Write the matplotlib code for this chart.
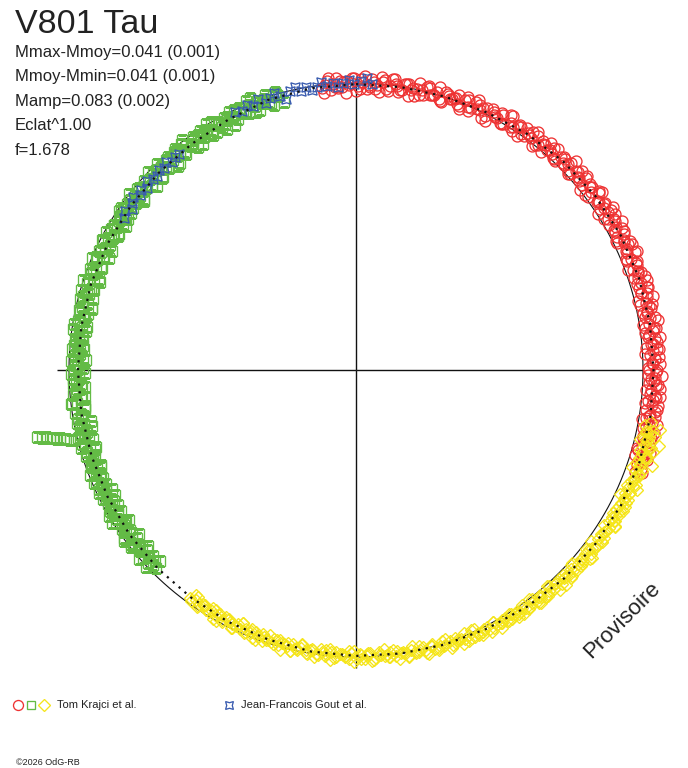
import numpy as np
import matplotlib
matplotlib.use("Agg")
import matplotlib.pyplot as plt

# ---------------- data (phase, delta-magnitude from mean) ----------------
fit_phase = [0.000, 0.025, 0.050, 0.075, 0.100, 0.125, 0.150, 0.175, 0.200, 0.225,
             0.250, 0.275, 0.300, 0.325, 0.350, 0.375, 0.400, 0.425, 0.450, 0.475,
             0.500, 0.525, 0.550, 0.575, 0.600, 0.625, 0.650, 0.675, 0.700, 0.725,
             0.750, 0.775, 0.800, 0.825, 0.850, 0.875, 0.900, 0.925, 0.950, 0.975, 1.000]
fit_dm = [0.004, 0.002, -0.002, -0.007, -0.017, -0.026, -0.033, -0.037, -0.039, -0.039,
          -0.039, -0.041, -0.041, -0.039, -0.033, -0.028, -0.019, -0.011, -0.006, 0.000,
          0.004, 0.007, 0.013, 0.017, 0.022, 0.024, 0.026, 0.030, 0.033, 0.033,
          0.033, 0.033, 0.031, 0.031, 0.031, 0.030, 0.028, 0.022, 0.011, 0.006, 0.004]

# Tom Krajci et al. -- red part (three runs)
red_phase_a = [0.981, 0.984, 0.987, 0.990, 0.993, 0.996, 0.998, 0.001, 0.004, 0.006,
               0.009, 0.012, 0.015, 0.017, 0.020, 0.023, 0.026, 0.028, 0.031, 0.034,
               0.036, 0.039, 0.042, 0.045, 0.047, 0.050, 0.053, 0.056, 0.058, 0.061,
               0.064, 0.067, 0.069, 0.072, 0.075, 0.078, 0.080, 0.083, 0.086, 0.089,
               0.091, 0.094, 0.097, 0.100, 0.103, 0.105, 0.108, 0.111, 0.114, 0.116,
               0.119, 0.122, 0.125, 0.128, 0.130, 0.133, 0.136, 0.139, 0.141, 0.144,
               0.147, 0.150, 0.153, 0.156, 0.158, 0.161, 0.164, 0.167, 0.170, 0.172,
               0.175, 0.178, 0.181, 0.184, 0.186, 0.189, 0.192, 0.195, 0.197, 0.200,
               0.203, 0.206, 0.208, 0.211, 0.214, 0.217, 0.219, 0.222, 0.225, 0.228,
               0.231, 0.233, 0.236, 0.239, 0.242, 0.244, 0.247, 0.250, 0.253, 0.256,
               0.258, 0.261, 0.264, 0.267, 0.269, 0.272, 0.275, 0.278, 0.281, 0.283,
               0.286, 0.289, 0.292, 0.294, 0.297, 0.300, 0.303, 0.306]
red_dm_a = [0.010, -0.012, 0.002, 0.018, -0.006, 0.008, -0.019, 0.012, -0.004, 0.020,
            -0.015, 0.006, -0.009, 0.015, -0.022, 0.001, 0.011, -0.013, 0.005, -0.002,
            0.017, -0.018, 0.007, -0.008, 0.013, -0.020, 0.000, -0.011, 0.009, -0.016,
            0.004, -0.024, -0.003, -0.014, 0.008, -0.020, -0.006, -0.027, 0.002, -0.017,
            -0.009, -0.030, -0.004, -0.022, -0.012, -0.035, -0.008, -0.025, -0.016, -0.038,
            -0.010, -0.030, -0.020, -0.043, -0.014, -0.034, -0.026, -0.047, -0.018, -0.037,
            -0.029, -0.050, -0.024, -0.041, -0.033, -0.052, -0.027, -0.044, -0.036, -0.055,
            -0.022, -0.040, -0.048, -0.031, -0.058, -0.037, -0.045, -0.026, -0.053, -0.034,
            -0.042, -0.060, -0.029, -0.047, -0.038, -0.055, -0.019, -0.044, -0.035, -0.057,
            -0.031, -0.049, -0.040, -0.062, -0.027, -0.046, -0.036, -0.053, -0.017, -0.043,
            -0.058, -0.034, -0.048, -0.025, -0.041, -0.056, -0.037, -0.050, -0.031, -0.045,
            -0.060, -0.039, -0.052, -0.023, -0.047, -0.042, -0.055, -0.036]
red_phase_b = [0.982, 0.985, 0.988, 0.991, 0.994, 0.997, 0.999, 0.002, 0.005, 0.008,
               0.010, 0.013, 0.016, 0.019, 0.021, 0.024, 0.027, 0.030, 0.032, 0.035,
               0.038, 0.041, 0.043, 0.046, 0.049, 0.052, 0.054, 0.057, 0.060, 0.063,
               0.065, 0.068, 0.071, 0.074, 0.076, 0.079, 0.082, 0.085, 0.087, 0.090,
               0.093, 0.096, 0.098, 0.101, 0.104, 0.107, 0.109, 0.112, 0.115, 0.118,
               0.120, 0.123, 0.126, 0.129, 0.131, 0.134, 0.137, 0.139, 0.142, 0.145,
               0.148, 0.150, 0.153, 0.156, 0.159, 0.161, 0.164, 0.167, 0.169, 0.172,
               0.175, 0.178, 0.180, 0.183, 0.186, 0.189, 0.191, 0.194, 0.197, 0.200,
               0.203, 0.206, 0.208, 0.211, 0.214, 0.216, 0.219, 0.222, 0.225, 0.228,
               0.230, 0.233, 0.236, 0.239, 0.241, 0.244, 0.247, 0.250, 0.253, 0.255,
               0.258, 0.261, 0.264, 0.266, 0.269, 0.272, 0.275, 0.277, 0.280, 0.283,
               0.286, 0.288, 0.291, 0.294, 0.297, 0.299, 0.302, 0.305]
red_dm_b = [0.029, -0.023, 0.011, -0.010, 0.035, 0.001, -0.018, 0.021, -0.027, 0.014,
            -0.006, 0.029, -0.016, 0.005, -0.023, 0.022, -0.010, 0.029, -0.002, -0.025,
            0.013, -0.018, 0.007, -0.031, 0.020, -0.009, 0.000, -0.025, 0.022, -0.019,
            0.019, -0.034, -0.004, -0.022, 0.023, -0.013, -0.033, 0.006, -0.042, -0.003,
            -0.022, 0.011, -0.035, -0.016, -0.045, -0.001, -0.034, 0.006, -0.024, -0.047,
            -0.010, -0.041, -0.018, -0.059, -0.006, -0.037, -0.027, -0.053, -0.002, -0.044,
            -0.008, -0.061, -0.028, -0.049, -0.004, -0.038, -0.057, -0.018, -0.067, -0.025,
            -0.049, -0.011, -0.058, -0.038, -0.066, -0.020, -0.052, -0.012, -0.041, -0.064,
            -0.026, -0.057, -0.032, -0.070, -0.018, -0.047, -0.037, -0.061, -0.013, -0.053,
            -0.016, -0.068, -0.034, -0.055, -0.010, -0.044, -0.062, -0.023, -0.071, -0.029,
            -0.051, -0.014, -0.066, -0.041, -0.064, -0.020, -0.058, -0.012, -0.042, -0.064,
            -0.026, -0.057, -0.033, -0.070, -0.018, -0.047, -0.037, -0.061]
red_phase_c = [0.983, 0.986, 0.989, 0.992, 0.995, 0.000, 0.003, 0.007, 0.011, 0.014,
               0.018, 0.022, 0.025, 0.029, 0.033, 0.037, 0.040, 0.044, 0.048, 0.051,
               0.055, 0.059, 0.062, 0.066, 0.070, 0.073, 0.077, 0.081, 0.084, 0.088,
               0.092, 0.095, 0.099, 0.102, 0.106, 0.110, 0.113, 0.117, 0.121, 0.124,
               0.127, 0.132, 0.135, 0.138, 0.143, 0.146, 0.149, 0.154, 0.157, 0.160,
               0.163, 0.166, 0.171, 0.174, 0.177, 0.179, 0.182, 0.185, 0.188, 0.193,
               0.196, 0.199, 0.202, 0.205, 0.209, 0.212, 0.215, 0.218, 0.221, 0.224,
               0.227, 0.229, 0.232, 0.235, 0.238, 0.240, 0.243, 0.246, 0.249, 0.251,
               0.254, 0.257, 0.260, 0.263, 0.265, 0.268, 0.271, 0.274, 0.276, 0.279,
               0.282, 0.285, 0.287, 0.290, 0.293, 0.296, 0.298, 0.301]
red_dm_c = [0.000, 0.023, -0.020, 0.014, -0.009, 0.031, -0.016, 0.007, 0.018, -0.027,
            0.023, -0.006, 0.014, -0.016, 0.026, -0.002, -0.023, 0.005, 0.018, -0.013,
            -0.008, 0.014, -0.030, 0.004, -0.020, 0.020, -0.028, -0.007, 0.004, -0.042,
            0.007, -0.023, -0.005, -0.035, 0.006, -0.023, -0.045, -0.017, -0.006, -0.037,
            -0.032, -0.010, -0.054, -0.021, -0.045, -0.005, -0.053, -0.031, -0.019, -0.065,
            -0.014, -0.044, -0.024, -0.054, -0.012, -0.039, -0.061, -0.032, -0.019, -0.050,
            -0.044, -0.021, -0.064, -0.030, -0.053, -0.012, -0.059, -0.036, -0.024, -0.069,
            -0.018, -0.047, -0.027, -0.056, -0.014, -0.041, -0.062, -0.033, -0.020, -0.050,
            -0.045, -0.022, -0.065, -0.031, -0.054, -0.013, -0.060, -0.037, -0.025, -0.071,
            -0.020, -0.049, -0.029, -0.058, -0.016, -0.043, -0.064, -0.035]

# Tom Krajci et al. -- yellow part
yellow_phase_a = [0.278, 0.281, 0.283, 0.285, 0.287, 0.289, 0.291, 0.293, 0.295, 0.297,
                  0.300, 0.302, 0.305, 0.307, 0.310, 0.313, 0.315, 0.318, 0.320, 0.323,
                  0.326, 0.328, 0.331, 0.334, 0.336, 0.339, 0.342, 0.345, 0.347, 0.350,
                  0.353, 0.356, 0.358, 0.361, 0.364, 0.367, 0.369, 0.372, 0.375, 0.378,
                  0.381, 0.383, 0.386, 0.389, 0.392, 0.394, 0.397, 0.400, 0.403, 0.406,
                  0.408, 0.411, 0.414, 0.417, 0.419, 0.422, 0.425, 0.428, 0.431, 0.433,
                  0.436, 0.439, 0.442, 0.444, 0.447, 0.450, 0.453, 0.456, 0.458, 0.461,
                  0.464, 0.467, 0.469, 0.472, 0.475, 0.478, 0.481, 0.483, 0.486, 0.489,
                  0.492, 0.494, 0.497, 0.500, 0.503, 0.506, 0.508, 0.511, 0.514, 0.517,
                  0.519, 0.522, 0.525, 0.528, 0.531, 0.533, 0.536, 0.539, 0.542, 0.544,
                  0.547, 0.550, 0.553, 0.556, 0.558, 0.561, 0.564, 0.567, 0.569, 0.572,
                  0.575, 0.578, 0.581, 0.583, 0.586, 0.589, 0.592, 0.594, 0.597, 0.600]
yellow_dm_a = [-0.048, -0.085, -0.036, -0.070, -0.044, -0.095, -0.052, -0.078, -0.040, -0.060,
               -0.088, -0.047, -0.038, -0.055, -0.043, -0.050, -0.035, -0.046, -0.040, -0.052,
               -0.033, -0.044, -0.038, -0.049, -0.030, -0.041, -0.035, -0.046, -0.028, -0.039,
               -0.032, -0.042, -0.025, -0.036, -0.029, -0.039, -0.022, -0.033, -0.027, -0.036,
               -0.019, -0.030, -0.024, -0.033, -0.016, -0.026, -0.020, -0.029, -0.012, -0.023,
               -0.017, -0.026, -0.009, -0.019, -0.013, -0.022, -0.005, -0.015, -0.010, -0.019,
               -0.002, -0.012, -0.007, -0.016, 0.001, -0.009, -0.004, -0.013, 0.004, -0.006,
               0.000, -0.010, 0.007, -0.003, 0.002, -0.008, 0.010, 0.000, 0.005, -0.005,
               0.012, 0.002, 0.008, -0.003, 0.014, 0.004, 0.010, -0.001, 0.016, 0.006,
               0.012, 0.001, 0.018, 0.008, 0.014, 0.003, 0.020, 0.010, 0.016, 0.005,
               0.022, 0.012, 0.018, 0.008, 0.024, 0.014, 0.020, 0.010, 0.026, 0.016,
               0.022, 0.012, 0.027, 0.018, 0.024, 0.014, 0.029, 0.020, 0.025, 0.017]
yellow_phase_b = [0.280, 0.282, 0.284, 0.286, 0.288, 0.290, 0.292, 0.294, 0.296, 0.298,
                  0.301, 0.304, 0.306, 0.309, 0.312, 0.314, 0.317, 0.320, 0.322, 0.325,
                  0.328, 0.330, 0.333, 0.336, 0.339, 0.341, 0.344, 0.347, 0.350, 0.352,
                  0.355, 0.358, 0.361, 0.363, 0.366, 0.369, 0.372, 0.374, 0.377, 0.380,
                  0.383, 0.385, 0.388, 0.391, 0.393, 0.396, 0.399, 0.402, 0.405, 0.407,
                  0.410, 0.413, 0.416, 0.418, 0.421, 0.424, 0.427, 0.429, 0.432, 0.435,
                  0.438, 0.440, 0.443, 0.446, 0.449, 0.451, 0.454, 0.457, 0.460, 0.462,
                  0.465, 0.468, 0.471, 0.473, 0.476, 0.479, 0.482, 0.484, 0.487, 0.490,
                  0.493, 0.495, 0.498, 0.501, 0.504, 0.506, 0.509, 0.512, 0.515, 0.517,
                  0.520, 0.523, 0.526, 0.528, 0.531, 0.534, 0.537, 0.539, 0.542, 0.545,
                  0.548, 0.550, 0.553, 0.556, 0.559, 0.561, 0.564, 0.567, 0.570, 0.572,
                  0.575, 0.578, 0.581, 0.583, 0.586, 0.589, 0.591, 0.594, 0.597, 0.599]
yellow_dm_b = [-0.025, -0.061, -0.037, -0.052, -0.020, -0.044, -0.057, -0.029, -0.063, -0.033,
               -0.047, -0.022, -0.054, -0.040, -0.059, -0.027, -0.049, -0.019, -0.039, -0.056,
               -0.028, -0.050, -0.030, -0.057, -0.021, -0.040, -0.033, -0.049, -0.015, -0.042,
               -0.016, -0.051, -0.026, -0.041, -0.009, -0.033, -0.045, -0.017, -0.049, -0.018,
               -0.030, -0.006, -0.037, -0.021, -0.038, -0.007, -0.027, -0.001, -0.019, -0.034,
               -0.006, -0.026, -0.008, -0.034, 0.000, -0.016, -0.008, -0.024, 0.009, -0.018,
               0.008, -0.028, -0.003, -0.016, 0.015, -0.009, -0.020, 0.009, -0.024, 0.006,
               -0.007, 0.018, -0.014, 0.001, -0.018, 0.016, -0.005, 0.023, 0.003, -0.014,
               0.013, -0.009, 0.010, -0.017, 0.021, 0.001, 0.008, -0.008, 0.026, -0.002,
               0.022, -0.013, 0.011, -0.003, 0.030, 0.007, -0.005, 0.022, -0.010, 0.020,
               0.007, 0.032, 0.001, 0.015, -0.002, 0.030, 0.010, 0.037, 0.017, 0.000,
               0.027, 0.006, 0.024, -0.001, 0.035, 0.015, 0.023, 0.007, 0.039, 0.012]
yellow_phase_c = [0.284, 0.287, 0.291, 0.294, 0.297, 0.301, 0.304, 0.308, 0.311, 0.314,
                  0.318, 0.321, 0.324, 0.327, 0.331, 0.334, 0.337, 0.341, 0.344, 0.347,
                  0.351, 0.354, 0.357, 0.361, 0.364, 0.367, 0.371, 0.374, 0.377, 0.381,
                  0.384, 0.387, 0.391, 0.394, 0.397, 0.401, 0.404, 0.407, 0.411, 0.414,
                  0.417, 0.421, 0.424, 0.427, 0.431, 0.434, 0.437, 0.441, 0.444, 0.447,
                  0.451, 0.454, 0.457, 0.461, 0.464, 0.467, 0.471, 0.474, 0.477, 0.481,
                  0.484, 0.487, 0.491, 0.494, 0.497, 0.501, 0.504, 0.507, 0.511, 0.514,
                  0.517, 0.521, 0.524, 0.527, 0.531, 0.534, 0.537, 0.541, 0.544, 0.547,
                  0.551, 0.554, 0.557, 0.561, 0.564, 0.567, 0.571, 0.574, 0.577, 0.581,
                  0.584, 0.587, 0.591, 0.594, 0.598]
yellow_dm_c = [-0.051, -0.034, -0.065, -0.041, -0.057, -0.028, -0.061, -0.045, -0.036, -0.068,
               -0.032, -0.052, -0.037, -0.056, -0.026, -0.044, -0.058, -0.038, -0.028, -0.048,
               -0.043, -0.025, -0.055, -0.029, -0.043, -0.012, -0.043, -0.026, -0.016, -0.047,
               -0.010, -0.030, -0.015, -0.033, -0.002, -0.020, -0.034, -0.013, -0.003, -0.023,
               -0.018, 0.000, -0.030, -0.005, -0.020, 0.010, -0.023, -0.006, 0.004, -0.027,
               0.009, -0.011, 0.003, -0.016, 0.015, -0.003, -0.017, 0.004, 0.013, -0.007,
               -0.002, 0.015, -0.015, 0.009, -0.006, 0.023, -0.009, 0.007, 0.016, -0.015,
               0.021, 0.000, 0.015, -0.005, 0.026, 0.008, -0.006, 0.015, 0.025, 0.004,
               0.009, 0.027, -0.004, 0.021, 0.005, 0.035, 0.002, 0.019, 0.028, -0.003,
               0.034, 0.013, 0.028, 0.009, 0.040]

# Tom Krajci et al. -- green part (end of run a: bright outliers near phase 0.71)
green_phase_a = [0.626, 0.629, 0.631, 0.634, 0.637, 0.639, 0.642, 0.645, 0.647, 0.650,
                 0.653, 0.656, 0.658, 0.661, 0.664, 0.667, 0.669, 0.672, 0.675, 0.678,
                 0.681, 0.683, 0.686, 0.689, 0.692, 0.694, 0.697, 0.700, 0.703, 0.706,
                 0.708, 0.711, 0.714, 0.717, 0.719, 0.722, 0.725, 0.728, 0.731, 0.733,
                 0.736, 0.739, 0.742, 0.744, 0.747, 0.750, 0.753, 0.756, 0.758, 0.761,
                 0.764, 0.767, 0.769, 0.772, 0.775, 0.778, 0.781, 0.783, 0.786, 0.789,
                 0.792, 0.794, 0.797, 0.800, 0.803, 0.806, 0.808, 0.811, 0.814, 0.817,
                 0.819, 0.822, 0.825, 0.828, 0.831, 0.833, 0.836, 0.839, 0.842, 0.844,
                 0.847, 0.850, 0.853, 0.856, 0.858, 0.861, 0.864, 0.867, 0.869, 0.872,
                 0.875, 0.878, 0.881, 0.883, 0.886, 0.889, 0.892, 0.894, 0.897, 0.900,
                 0.903, 0.906, 0.908, 0.911, 0.914, 0.917, 0.919, 0.922, 0.925, 0.928,
                 0.931, 0.933, 0.936, 0.939, 0.942, 0.944, 0.947, 0.950, 0.953, 0.956,
                 0.717, 0.716, 0.716, 0.715, 0.715, 0.714, 0.714, 0.713, 0.713, 0.712, 0.711]
green_dm_a = [0.020, 0.034, 0.012, 0.028, 0.040, 0.018, 0.031, 0.009, 0.025, 0.037,
              0.016, 0.029, 0.043, 0.020, 0.033, 0.011, 0.026, 0.039, 0.022, 0.035,
              0.014, 0.029, 0.044, 0.024, 0.036, 0.017, 0.031, 0.046, 0.021, 0.038,
              0.013, 0.030, 0.042, 0.025, 0.036, 0.016, 0.033, 0.048, 0.022, 0.039,
              0.012, 0.029, 0.044, 0.024, 0.037, 0.018, 0.032, 0.050, 0.021, 0.040,
              0.014, 0.030, 0.045, 0.026, 0.036, 0.017, 0.033, 0.047, 0.022, 0.039,
              0.015, 0.029, 0.043, 0.024, 0.036, 0.018, 0.031, 0.046, 0.021, 0.038,
              0.014, 0.028, 0.041, 0.023, 0.035, 0.017, 0.030, 0.044, 0.020, 0.037,
              0.013, 0.027, 0.040, 0.022, 0.034, 0.016, 0.029, 0.042, 0.021, 0.035,
              0.015, 0.028, 0.039, 0.019, 0.032, 0.012, 0.026, 0.037, 0.018, 0.030,
              0.010, 0.024, 0.034, 0.014, 0.027, 0.006, 0.020, 0.029, 0.010, 0.021,
              0.002, 0.015, 0.024, 0.005, 0.016, 0.000, 0.011, 0.018, 0.003, 0.009,
              -0.143, -0.128, -0.112, -0.098, -0.088, -0.072, -0.062, -0.048, -0.040, -0.026, -0.012]
green_phase_b = [0.627, 0.630, 0.633, 0.635, 0.638, 0.641, 0.644, 0.646, 0.649, 0.652,
                 0.655, 0.657, 0.660, 0.663, 0.665, 0.668, 0.671, 0.674, 0.676, 0.679,
                 0.682, 0.685, 0.687, 0.690, 0.693, 0.696, 0.698, 0.701, 0.704, 0.707,
                 0.709, 0.712, 0.715, 0.718, 0.720, 0.723, 0.726, 0.729, 0.731, 0.734,
                 0.737, 0.740, 0.742, 0.745, 0.748, 0.751, 0.753, 0.756, 0.759, 0.762,
                 0.764, 0.767, 0.770, 0.773, 0.775, 0.778, 0.781, 0.784, 0.786, 0.789,
                 0.792, 0.795, 0.797, 0.800, 0.803, 0.806, 0.808, 0.811, 0.814, 0.817,
                 0.819, 0.822, 0.825, 0.828, 0.830, 0.833, 0.836, 0.839, 0.841, 0.844,
                 0.847, 0.850, 0.853, 0.855, 0.858, 0.861, 0.864, 0.866, 0.869, 0.872,
                 0.875, 0.878, 0.880, 0.883, 0.886, 0.889, 0.891, 0.894, 0.897, 0.900,
                 0.902, 0.905, 0.908, 0.911, 0.913, 0.916, 0.919, 0.922, 0.924, 0.927,
                 0.930, 0.933, 0.935, 0.938, 0.941, 0.944, 0.946, 0.949, 0.952, 0.955]
green_dm_b = [0.048, -0.004, 0.030, 0.009, 0.054, 0.021, 0.003, 0.042, -0.005, 0.037,
              0.017, 0.053, 0.008, 0.030, 0.002, 0.049, 0.018, 0.058, 0.029, 0.007,
              0.045, 0.014, 0.040, 0.002, 0.054, 0.025, 0.035, 0.012, 0.060, 0.020,
              0.057, 0.005, 0.039, 0.018, 0.063, 0.029, 0.011, 0.050, 0.002, 0.044,
              0.024, 0.059, 0.014, 0.035, 0.007, 0.053, 0.021, 0.061, 0.032, 0.009,
              0.047, 0.016, 0.041, 0.003, 0.055, 0.026, 0.036, 0.012, 0.060, 0.019,
              0.055, 0.003, 0.037, 0.016, 0.061, 0.027, 0.009, 0.048, 0.000, 0.042,
              0.022, 0.057, 0.012, 0.033, 0.005, 0.051, 0.019, 0.059, 0.030, 0.007,
              0.045, 0.014, 0.039, 0.001, 0.053, 0.024, 0.034, 0.010, 0.058, 0.018,
              0.054, 0.002, 0.035, 0.014, 0.059, 0.025, 0.006, 0.045, -0.003, 0.039,
              0.018, 0.053, 0.007, 0.026, -0.003, 0.043, 0.011, 0.050, 0.021, -0.002,
              0.034, 0.001, 0.024, -0.014, 0.036, 0.006, 0.014, -0.010, 0.037, -0.002]
green_phase_c = [0.628, 0.632, 0.636, 0.640, 0.643, 0.647, 0.650, 0.654, 0.657, 0.661,
                 0.664, 0.668, 0.671, 0.675, 0.678, 0.682, 0.685, 0.689, 0.692, 0.696,
                 0.699, 0.703, 0.706, 0.710, 0.713, 0.717, 0.720, 0.724, 0.727, 0.731,
                 0.734, 0.738, 0.741, 0.745, 0.748, 0.752, 0.755, 0.759, 0.762, 0.766,
                 0.769, 0.773, 0.776, 0.780, 0.783, 0.787, 0.790, 0.794, 0.797, 0.801,
                 0.804, 0.808, 0.811, 0.815, 0.818, 0.822, 0.825, 0.829, 0.832, 0.836,
                 0.839, 0.843, 0.846, 0.850, 0.853, 0.857, 0.860, 0.864, 0.867, 0.871,
                 0.874, 0.878, 0.881, 0.885, 0.888, 0.892, 0.895, 0.899, 0.902, 0.906,
                 0.909, 0.913, 0.916, 0.920, 0.923, 0.927, 0.930, 0.934, 0.937, 0.941,
                 0.944, 0.948, 0.951, 0.955, 0.958]
green_dm_c = [0.020, 0.045, -0.002, 0.035, 0.010, 0.054, 0.003, 0.029, 0.042, -0.005,
              0.050, 0.019, 0.042, 0.011, 0.057, 0.029, 0.006, 0.039, 0.053, 0.021,
              0.028, 0.053, 0.006, 0.043, 0.018, 0.062, 0.011, 0.036, 0.049, 0.001,
              0.056, 0.024, 0.046, 0.014, 0.060, 0.031, 0.008, 0.040, 0.054, 0.021,
              0.028, 0.053, 0.006, 0.043, 0.017, 0.060, 0.009, 0.034, 0.047, -0.001,
              0.054, 0.022, 0.044, 0.012, 0.058, 0.029, 0.006, 0.038, 0.052, 0.019,
              0.026, 0.051, 0.004, 0.041, 0.016, 0.060, 0.009, 0.034, 0.046, -0.002,
              0.053, 0.021, 0.043, 0.011, 0.057, 0.027, 0.004, 0.035, 0.049, 0.015,
              0.021, 0.045, -0.002, 0.034, 0.008, 0.050, -0.002, 0.021, 0.033, -0.017,
              0.036, 0.003, 0.024, -0.009, 0.036]

# Jean-Francois Gout et al.
blue_phase = [0.842, 0.846, 0.849, 0.852, 0.855, 0.858, 0.861, 0.864, 0.867, 0.870,
              0.873, 0.876, 0.879, 0.882, 0.885, 0.888, 0.891, 0.930, 0.934, 0.938,
              0.941, 0.945, 0.948, 0.951, 0.954, 0.957, 0.960, 0.963, 0.966, 0.969,
              0.972, 0.975, 0.978, 0.981, 0.984, 0.987, 0.990, 0.993, 0.996, 0.999,
              0.003, 0.006, 0.009]
blue_dm = [0.035, 0.022, 0.040, 0.028, 0.018, 0.033, 0.025, 0.038, 0.021, 0.030,
           0.036, 0.024, 0.031, 0.019, 0.034, 0.026, 0.029, 0.008, 0.016, 0.002,
           0.012, -0.004, 0.020, 0.006, -0.006, 0.011, 0.025, 0.001, -0.008, 0.009,
           -0.002, 0.014, 0.004, -0.010, 0.007, -0.003, 0.012, 0.000, -0.012, 0.005,
           -0.006, -0.020, 0.002]

title = "V801 Tau"
info_lines = ["Mmax-Mmoy=0.041 (0.001)", "Mmoy-Mmin=0.041 (0.001)",
              "Mamp=0.083 (0.002)", "Eclat^1.00", "f=1.678"]
legend_labels = ["Tom Krajci et al.", "Jean-Francois Gout et al."]

# ---------------- layout ----------------
W, H = 688, 768
CX, CY = 356, 370          # centre of the diagram in pixels
RC_PX = 287                # radius of the mean-magnitude circle (px)
K_PX = 270                 # pixels per magnitude
R_AX_PX = 340              # outer radius of the polar axes (px)

RED = "#EE3333"
GREEN = "#63BB45"
YELLOW = "#F5E51A"
BLUE = "#3A5CB0"
FONT = ["Liberation Sans", "DejaVu Sans"]

fig = plt.figure(figsize=(W / 100, H / 100), dpi=100)
fig.patch.set_facecolor("white")

ax = fig.add_axes([(CX - R_AX_PX) / W, (H - CY - R_AX_PX) / H,
                   2 * R_AX_PX / W, 2 * R_AX_PX / H], projection="polar")
ax.set_theta_zero_location("N")
ax.set_theta_direction(-1)
rmin = -RC_PX / K_PX
rmax = (R_AX_PX - RC_PX) / K_PX
ax.set_rlim(rmin, rmax)
ax.set_axis_off()


def th(ph):
    return 2 * np.pi * np.asarray(ph)


def rr(dm):
    return -np.asarray(dm)   # brighter -> further out


def arm(theta, length_px, lw=1.0):
    ax.plot([theta, theta], [rmin, (length_px - RC_PX) / K_PX], color="#111111",
            lw=lw, zorder=1, solid_capstyle="butt")


arm(0.0, 292)
arm(np.pi / 2, 287)
arm(np.pi, 298)
arm(3 * np.pi / 2, 299)

circ_t = np.linspace(0, 2 * np.pi, 721)
ax.plot(circ_t, np.zeros_like(circ_t), color="#111111", lw=0.8, zorder=1)

mew = 0.95
red_phase = red_phase_a + red_phase_b + red_phase_c
red_dm = red_dm_a + red_dm_b + red_dm_c
yellow_phase = yellow_phase_a + yellow_phase_b + yellow_phase_c
yellow_dm = yellow_dm_a + yellow_dm_b + yellow_dm_c
green_phase = green_phase_a + green_phase_b + green_phase_c
green_dm = green_dm_a + green_dm_b + green_dm_c

ax.plot(th(red_phase), rr(red_dm), ls="none", marker="o", ms=7.9, mfc="none",
        mec=RED, mew=mew, zorder=3)
ax.plot(th(green_phase), rr(green_dm), ls="none", marker="s", ms=6.9, mfc="none",
        mec=GREEN, mew=mew, zorder=3)
ax.plot(th(yellow_phase), rr(yellow_dm), ls="none", marker="D", ms=6.5, mfc="none",
        mec=YELLOW, mew=mew, zorder=4)
ax.plot(th(blue_phase), rr(blue_dm), ls="none", marker=(4, 1, 45), ms=9.5, mfc="none",
        mec=BLUE, mew=mew, zorder=5)

ax.plot(th(fit_phase), rr(fit_dm), color="#111111", lw=1.6, ls=(0, (1, 2.5)), zorder=6)

# ---------------- texts ----------------
def ftext(x, y, s, **kw):
    fig.text(x / W, 1 - y / H, s, va="baseline", ha="left", family=FONT, **kw)


ftext(15, 33, title, fontsize=24.5, color="#222222")
for i, line in enumerate(info_lines):
    ftext(15, 57 + i * 24.5, line, fontsize=12, color="#222222")

fig.text(622 / W, 1 - 620 / H, "Provisoire", rotation=45, ha="center", va="center",
         fontsize=16, color="#222222", family=FONT, rotation_mode="anchor")

lax = fig.add_axes([0, 0, 1, 1])
lax.set_xlim(0, W)
lax.set_ylim(H, 0)
lax.set_axis_off()
lax.patch.set_alpha(0)
lax.plot([18], [705], marker="o", ms=7.2, mfc="none", mec=RED, mew=mew)
lax.plot([31], [705], marker="s", ms=6.0, mfc="none", mec=GREEN, mew=mew)
lax.plot([44], [705], marker="D", ms=6.0, mfc="none", mec=YELLOW, mew=mew)
lax.plot([229], [705], marker=(4, 1, 45), ms=8, mfc="none", mec=BLUE, mew=mew)
lax.text(57, 708.5, legend_labels[0], fontsize=8, family=FONT, color="#222222", va="baseline")
lax.text(241, 708.5, legend_labels[1], fontsize=8, family=FONT, color="#222222", va="baseline")
lax.text(16, 765, "\u00a92026 OdG-RB", fontsize=6.5, family=FONT, color="#222222", va="baseline")

fig.savefig("out.png", dpi=100, facecolor="white")
